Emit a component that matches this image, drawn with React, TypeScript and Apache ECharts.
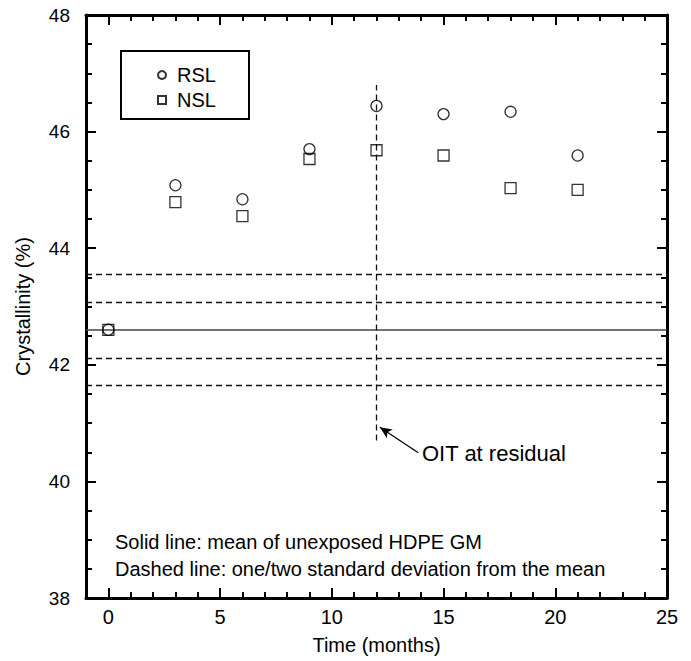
import React, { useEffect, useRef } from "react";
import * as echarts from "echarts";

const months = [0, 3, 6, 9, 12, 15, 18, 21];
const rslValues = [42.6, 45.08, 44.84, 45.7, 46.44, 46.3, 46.34, 45.59];
const nslValues = [42.6, 44.79, 44.55, 45.53, 45.68, 45.59, 45.03, 45.0];
const xMajorTicks = [0, 5, 10, 15, 20, 25];
const xMinorTicks = [0, 1, 2, 3, 4, 5, 6, 7, 8, 9, 10, 11, 12, 13, 14, 15, 16, 17, 18, 19, 20, 21, 22, 23, 24];
const meanValue = 42.6;
const sdValues = [41.65, 42.12, 43.08, 43.55];
const oitX = 12;
const oitRange = [40.7, 46.8];
const arrowFrom = [13.87, 40.49];
const arrowTo = [12.15, 40.93];

const FONT = "'Liberation Sans', Arial, Helvetica, sans-serif";
const TICK = "#000";

export default function App() {
  const ref = useRef<HTMLDivElement>(null);
  useEffect(() => {
    if (!ref.current) return;
    const chart = echarts.init(ref.current, null, { renderer: "svg" });
    const axisLine = { show: true, onZero: false, lineStyle: { color: "#000", width: 3 } };
    const xAxisBase = {
      type: "value",
      min: -1,
      max: 25,
      splitLine: { show: false },
    };
    const xAxes: any[] = [
      {
        ...xAxisBase,
        position: "bottom",
        axisLine,
        axisTick: { show: true, inside: true, length: 10, customValues: xMajorTicks, lineStyle: { color: TICK, width: 2 } },
        axisLabel: { show: true, customValues: xMajorTicks, margin: 9, fontSize: 20, color: "#000", fontFamily: FONT },
        name: "Time (months)",
        nameLocation: "middle",
        nameGap: 37,
        nameTextStyle: { fontSize: 20, color: "#000", fontFamily: FONT },
      },
      {
        ...xAxisBase,
        position: "bottom",
        axisLine: { show: false, onZero: false },
        axisTick: { show: true, inside: true, length: 6, customValues: xMinorTicks, lineStyle: { color: TICK, width: 2 } },
        axisLabel: { show: false },
      },
      {
        ...xAxisBase,
        position: "top",
        axisLine,
        axisTick: { show: true, inside: true, length: 10, customValues: xMajorTicks, lineStyle: { color: TICK, width: 2 } },
        axisLabel: { show: false },
      },
      {
        ...xAxisBase,
        position: "top",
        axisLine: { show: false, onZero: false },
        axisTick: { show: true, inside: true, length: 6, customValues: xMinorTicks, lineStyle: { color: TICK, width: 2 } },
        axisLabel: { show: false },
      },
    ];
    const yBase = {
      type: "value",
      min: 38,
      max: 48,
      interval: 2,
      splitLine: { show: false },
      axisLine,
      axisTick: { show: true, inside: true, length: 10, lineStyle: { color: TICK, width: 2 } },
      minorTick: { show: true, splitNumber: 4, length: 6, lineStyle: { color: TICK, width: 2 } },
    };
    const yAxes: any[] = [
      {
        ...yBase,
        position: "left",
        axisLabel: { show: true, margin: 16, fontSize: 19, color: "#000", fontFamily: FONT },
        name: "Crystallinity (%)",
        nameLocation: "middle",
        nameGap: 53,
        nameTextStyle: { fontSize: 20, color: "#000", fontFamily: FONT },
      },
      {
        ...yBase,
        position: "right",
        axisLabel: { show: false },
      },
    ];

    const dashed = { color: "#111", width: 1.3, type: [6, 4] as any };

    chart.setOption({
      animation: false,
      backgroundColor: "#fff",
      textStyle: { fontFamily: FONT },
      grid: { left: 86, top: 15, width: 581, height: 583, containLabel: false },
      xAxis: xAxes,
      yAxis: yAxes,
      legend: {
        orient: "vertical",
        left: 157,
        top: 65,
        padding: 0,
        itemWidth: 8,
        itemHeight: 8,
        itemGap: 5,
        textStyle: { fontSize: 20, lineHeight: 20, color: "#000", fontFamily: FONT, padding: [0, 0, 0, 6] },
        data: [
          { name: "RSL", icon: "circle" },
          { name: "NSL", icon: "rect" },
        ],
      },
      series: [
        {
          name: "Reference",
          type: "line",
          data: [],
          silent: true,
          markLine: {
            silent: true,
            symbol: ["none", "none"],
            label: { show: false },
            data: [
              { yAxis: meanValue, lineStyle: { color: "#444", width: 1.5, type: "solid" } },
              ...sdValues.map((v) => ({ yAxis: v, lineStyle: dashed })),
              [
                { coord: [oitX, oitRange[0]], lineStyle: dashed },
                { coord: [oitX, oitRange[1]] },
              ],
            ],
          },
        },
        {
          name: "Arrow",
          type: "line",
          data: [],
          silent: true,
          markLine: {
            silent: true,
            symbol: ["none", "arrow"],
            symbolSize: [8, 12],
            label: { show: false },
            lineStyle: { color: "#000", width: 1.3, type: "solid" },
            data: [[{ coord: arrowFrom }, { coord: arrowTo }]],
          },
        },
        {
          name: "RSL",
          type: "scatter",
          symbol: "circle",
          symbolSize: 11,
          itemStyle: { color: "rgba(0,0,0,0)", borderColor: "#000", borderWidth: 1.3 },
          data: months.map((m, i) => [m, rslValues[i]]),
          z: 5,
        },
        {
          name: "NSL",
          type: "scatter",
          symbol: "rect",
          symbolSize: 11,
          itemStyle: { color: "rgba(0,0,0,0)", borderColor: "#000", borderWidth: 1.3 },
          data: months.map((m, i) => [m, nslValues[i]]),
          z: 5,
        },
      ],
      graphic: [
        {
          type: "rect",
          shape: { x: 121, y: 51, width: 128, height: 68 },
          style: { fill: "none", stroke: "#000", lineWidth: 2 },
          z: 10,
        },
        {
          type: "text",
          x: 422,
          y: 453,
          style: { text: "OIT at residual", fontSize: 22, fill: "#000", fontFamily: FONT, verticalAlign: "middle" },
        },
        {
          type: "text",
          x: 115,
          y: 542,
          style: { text: "Solid line: mean of unexposed HDPE GM", fontSize: 20, fill: "#000", fontFamily: FONT, verticalAlign: "middle" },
        },
        {
          type: "text",
          x: 115,
          y: 569,
          style: { text: "Dashed line: one/two standard deviation from the mean", fontSize: 20, fill: "#000", fontFamily: FONT, verticalAlign: "middle" },
        },
      ],
    });
    return () => chart.dispose();
  }, []);
  return <div ref={ref} style={{ width: 691, height: 661, position: "absolute", left: 0, top: 0 }} />;
}
